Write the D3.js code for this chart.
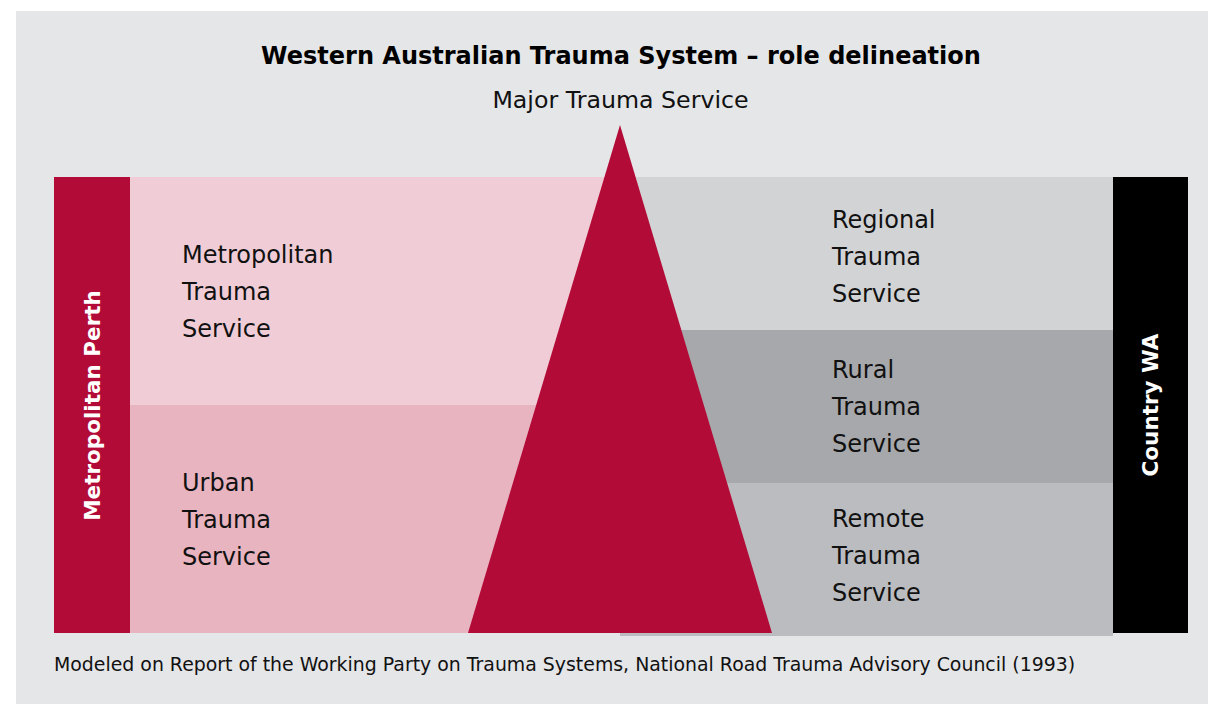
<!DOCTYPE html>
<html>
<head>
<meta charset="utf-8">
<script src="https://cdn.jsdelivr.net/npm/d3@7"></script>
<style>
  html, body { margin: 0; padding: 0; background: #ffffff; }
  svg { display: block; }
  text { font-family: "DejaVu Sans", sans-serif; }
</style>
</head>
<body>
<svg id="chart" width="1208" height="704"></svg>
<script>
// ---- data ----
const title = "Western Australian Trauma System \u2013 role delineation";
const apexLabel = "Major Trauma Service";
const footnote = "Modeled on Report of the Working Party on Trauma Systems, National Road Trauma Advisory Council (1993)";
const leftRegion = "Metropolitan Perth";
const rightRegion = "Country WA";
const leftTiers = ["Metropolitan Trauma Service", "Urban Trauma Service"];
const rightTiers = ["Regional Trauma Service", "Rural Trauma Service", "Remote Trauma Service"];
const leftColors = ["#f0cdd6", "#e8b4c0"];
const rightColors = ["#d2d3d5", "#a7a8ab", "#bbbcc0"];

// ---- layout ----
(function () {
const W = 1208, H = 704;
const svg = d3.select("#chart");
const red = "#b30b37";

svg.append("rect").attr("x", 16).attr("y", 11).attr("width", W - 16).attr("height", H - 11).attr("fill", "#e5e6e8");

const yTop = 177, yBottom = 633;
const midX = 620;

const yLeft = d3.scaleBand().domain(leftTiers).range([yTop, yBottom]).padding(0);
const yRight = d3.scaleBand().domain(rightTiers).range([yTop, yBottom + 3]).padding(0);

// left tiers
svg.selectAll("rect.left").data(leftTiers).join("rect")
  .attr("class", "left")
  .attr("x", 130).attr("width", midX - 130)
  .attr("y", d => yLeft(d)).attr("height", yLeft.bandwidth())
  .attr("fill", (d, i) => leftColors[i]);

// right tiers
svg.selectAll("rect.right").data(rightTiers).join("rect")
  .attr("class", "right")
  .attr("x", midX).attr("width", 1113 - midX)
  .attr("y", d => yRight(d)).attr("height", yRight.bandwidth())
  .attr("fill", (d, i) => rightColors[i]);

// region bars
svg.append("rect").attr("x", 54).attr("y", yTop).attr("width", 76).attr("height", yBottom - yTop).attr("fill", red);
svg.append("rect").attr("x", 1113).attr("y", yTop).attr("width", 75).attr("height", yBottom - yTop).attr("fill", "#000000");

// triangle
const tri = d3.line()([[midX, 125], [468, yBottom], [772, yBottom]]) + "Z";
svg.append("path").attr("d", tri).attr("fill", red);

// tier labels
const lineH = 37;
function tierLabel(x, cy, label) {
  const words = label.split(" ");
  const t = svg.append("text").attr("x", x).attr("font-size", 24).attr("fill", "#111");
  words.forEach((w, i) => {
    t.append("tspan").attr("x", x)
      .attr("y", cy + 8.5 + (i - (words.length - 1) / 2) * lineH)
      .text(w);
  });
}
leftTiers.forEach(d => tierLabel(182, yLeft(d) + yLeft.bandwidth() / 2, d));
const rightOffsets = [2.5, 0, -4];
rightTiers.forEach((d, i) => tierLabel(832, yRight(d) + yRight.bandwidth() / 2 + rightOffsets[i], d));

// region labels (rotated)
function regionLabel(cx, cy, label) {
  svg.append("text")
    .attr("transform", `translate(${cx},${cy}) rotate(-90)`)
    .attr("text-anchor", "middle").attr("dy", "0.36em")
    .attr("font-size", 21.5).attr("font-weight", "bold").attr("fill", "#ffffff")
    .text(label);
}
regionLabel(92, 405.5, leftRegion);
regionLabel(1150.5, 405, rightRegion);

// title, apex label, footnote
svg.append("text").attr("x", 621).attr("y", 64).attr("text-anchor", "middle")
  .attr("font-size", 24).attr("font-weight", "bold").attr("fill", "#000").text(title);
svg.append("text").attr("x", 620.5).attr("y", 108).attr("text-anchor", "middle")
  .attr("font-size", 23.7).attr("fill", "#111").text(apexLabel);
svg.append("text").attr("x", 54).attr("y", 671)
  .attr("font-size", 18.9).attr("fill", "#111").text(footnote);
})();
</script>
</body>
</html>
